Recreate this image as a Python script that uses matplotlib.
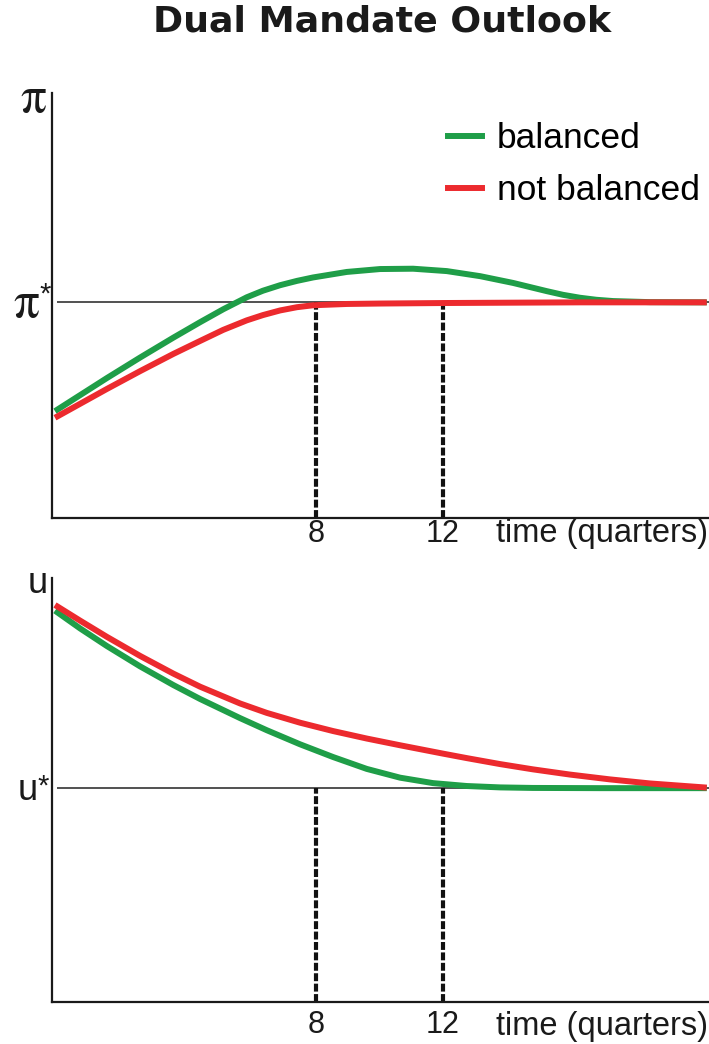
import matplotlib
matplotlib.use("Agg")
import matplotlib.pyplot as plt
from matplotlib.lines import Line2D

plt.rcParams['font.family'] = ['Liberation Sans', 'DejaVu Sans']

# ---------------- data (x in quarters; pi* = 2, u* = 2) ----------------
x_pi_balanced = [-0.22, 1.41, 2.46, 3.51, 4.35, 5.08, 5.82, 6.33, 6.87, 7.40, 7.91, 8.97,
                 10.02, 11.06, 12.12, 13.17, 14.21, 15.27, 15.78, 16.31, 16.83, 17.36,
                 18.52, 20.31]
pi_balanced = [0.991, 1.297, 1.488, 1.673, 1.816, 1.936, 2.047, 2.108, 2.159, 2.199, 2.231,
               2.282, 2.309, 2.312, 2.290, 2.243, 2.180, 2.104, 2.070, 2.043, 2.024, 2.012,
               2.002, 2.0]

x_pi_not_balanced = [-0.22, 1.41, 2.46, 3.51, 4.35, 5.08, 5.82, 6.33, 6.87, 7.40, 7.91,
                     8.97, 10.02, 12.12, 16.31, 20.31]
pi_not_balanced = [0.930, 1.196, 1.362, 1.522, 1.642, 1.745, 1.833, 1.882, 1.925, 1.955,
                   1.973, 1.985, 1.989, 1.994, 2.0, 2.0]

x_u_balanced = [-0.22, 0.57, 1.41, 2.46, 3.51, 4.35, 5.61, 6.45, 7.50, 8.54, 9.60, 10.65,
                11.69, 12.75, 13.80, 14.83, 16.94, 20.31]
u_balanced = [3.660, 3.494, 3.330, 3.139, 2.964, 2.834, 2.655, 2.542, 2.410, 2.291, 2.180,
              2.098, 2.047, 2.020, 2.007, 2.002, 2.0, 2.0]

x_u_not_balanced = [-0.22, 0.57, 1.41, 2.46, 3.51, 4.35, 5.61, 6.45, 7.50, 8.54, 9.60, 10.65,
                    12.00, 12.75, 13.80, 14.83, 16.00, 17.26, 18.52, 20.31]
u_not_balanced = [3.713, 3.567, 3.416, 3.237, 3.071, 2.949, 2.792, 2.704, 2.612, 2.534, 2.464,
                  2.401, 2.323, 2.281, 2.225, 2.176, 2.127, 2.082, 2.044, 2.005]

pi_star = 2.0
u_star = 2.0
marked_quarters = [8, 12]
tick_labels = ['8', '12']
series_labels = ['balanced', 'not balanced']
title = 'Dual Mandate Outlook'
x_label = 'time (quarters)'

GREEN = '#1f9e48'
RED = '#ec2a2e'
INK = '#1a1a1a'

W, H = 709, 1044
fig = plt.figure(figsize=(W / 100, H / 100), dpi=100)


def rect(l, t, r, b):
    return [l / W, 1 - b / H, (r - l) / W, (b - t) / H]


ax1 = fig.add_axes(rect(52, 93, 709, 518))
ax2 = fig.add_axes(rect(52, 578, 709, 1002))

XLIM = (-0.314, 20.38)


def style(ax, ylim, star, pad, label_drop):
    ax.set_xlim(*XLIM)
    ax.set_ylim(*ylim)
    for s in ['top', 'right']:
        ax.spines[s].set_visible(False)
    for s in ['left', 'bottom']:
        ax.spines[s].set_linewidth(1.6)
        ax.spines[s].set_color(INK)
    ax.set_yticks([])
    ax.set_xticks(marked_quarters)
    ax.set_xticklabels(tick_labels)
    ax.tick_params(axis='x', length=0, pad=pad, labelsize=22, labelcolor=INK)
    ax.hlines(star, -0.15, XLIM[1], colors='#222222', linewidth=1.1, zorder=1)
    ax.vlines(marked_quarters, ylim[0], star, colors='#111111', linewidth=3,
              linestyles=[(0, (1.9, 0.6))], zorder=1)
    ax.annotate(x_label, xy=(1, 0), xycoords='axes fraction', xytext=(-1, -label_drop),
                textcoords='offset points', ha='right', va='baseline', fontsize=23.5,
                color=INK)


style(ax1, (0, 2 + (302.7 - 93) / 108), pi_star, 0.5, 24 * 0.72)
style(ax2, (0, 2 + (788.3 - 578) / 107), u_star, 5.5, 33 * 0.72)

ax1.plot(x_pi_balanced, pi_balanced, color=GREEN, lw=4.3, solid_capstyle='butt', zorder=3)
ax1.plot(x_pi_not_balanced, pi_not_balanced, color=RED, lw=4.3, solid_capstyle='butt', zorder=3)
ax2.plot(x_u_balanced, u_balanced, color=GREEN, lw=4.3, solid_capstyle='butt', zorder=3)
ax2.plot(x_u_not_balanced, u_not_balanced, color=RED, lw=4.3, solid_capstyle='butt', zorder=3)

handles = [Line2D([], [], color=GREEN, lw=4.3), Line2D([], [], color=RED, lw=4.3)]
ax1.legend(handles, series_labels, loc='upper left', bbox_to_anchor=(448 / W, 1 - 122 / H),
           bbox_transform=fig.transFigure, frameon=False, fontsize=25.5, handlelength=0.96,
           handletextpad=0.42, labelspacing=0.55, borderpad=0, borderaxespad=0)

# title
fig.text(382.5 / W, 1 - 32 / H, title, ha='center', va='baseline', fontsize=26.2,
         weight='bold', color=INK, family=['DejaVu Sans'])

# axis symbols
serif = ['STIXGeneral', 'Liberation Serif', 'DejaVu Serif']
fig.text(33 / W, 1 - 112 / H, 'π', ha='center', va='baseline', fontsize=37,
         family=serif, color=INK)
fig.text(39 / W, 1 - 317 / H, 'π', ha='right', va='baseline', fontsize=37,
         family=serif, color=INK)
fig.text(39.5 / W, 1 - 303 / H, '*', ha='left', va='baseline', fontsize=21, color=INK)
fig.text(38 / W, 1 - 593 / H, 'u', ha='center', va='baseline', fontsize=26, color=INK)
fig.text(37.5 / W, 1 - 800 / H, 'u', ha='right', va='baseline', fontsize=26, color=INK)
fig.text(37.5 / W, 1 - 795 / H, '*', ha='left', va='baseline', fontsize=21, color=INK)

fig.savefig('out.png', dpi=100)
